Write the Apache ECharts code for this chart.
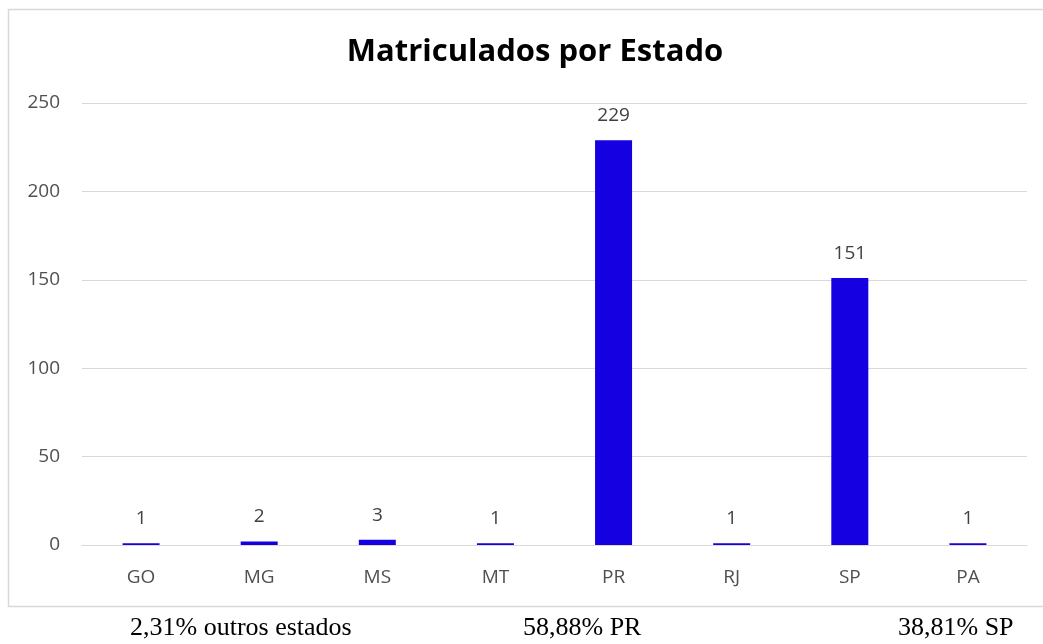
<!DOCTYPE html>
<html>
<head>
<meta charset="utf-8">
<script src="https://cdn.jsdelivr.net/npm/echarts@6/dist/echarts.min.js"></script>
<style>
html, body { margin: 0; padding: 0; background: #fff; }
#main { width: 1043px; height: 644px; }
</style>
</head>
<body>
<div id="main"></div>
<script>
var estados = ['GO', 'MG', 'MS', 'MT', 'PR', 'RJ', 'SP', 'PA'];
var matriculados = [1, 2, 3, 1, 229, 1, 151, 1];
var rodape = ['2,31% outros estados', '58,88% PR', '38,81% SP'];

var chart = echarts.init(document.getElementById('main'));
var option = {
    backgroundColor: '#fff',
    animation: false,
    title: {
        text: 'Matriculados por Estado',
        left: 530,
        top: 32,
        textAlign: 'center',
        textStyle: {
            fontFamily: 'Open Sans',
            fontWeight: 'bold',
            fontSize: 31,
            color: '#000'
        }
    },
    grid: {
        left: 82,
        right: 16,
        top: 103,
        bottom: 99
    },
    xAxis: {
        type: 'category',
        data: estados,
        axisLine: { lineStyle: { color: '#d9d9d9' } },
        axisTick: { show: false },
        axisLabel: {
            color: '#505050',
            fontFamily: 'Open Sans',
            fontSize: 19,
            margin: 23
        }
    },
    yAxis: {
        type: 'value',
        min: 0,
        max: 250,
        interval: 50,
        axisLine: { show: false },
        axisTick: { show: false },
        splitLine: { lineStyle: { color: '#d9d9d9' } },
        axisLabel: {
            color: '#505050',
            fontFamily: 'Open Sans',
            fontSize: 19,
            margin: 22
        }
    },
    series: [{
        type: 'bar',
        data: matriculados,
        barWidth: 37,
        itemStyle: { color: '#1400e0' },
        label: {
            show: true,
            position: 'top',
            distance: 15,
            color: '#404040',
            fontFamily: 'Open Sans',
            fontSize: 19
        }
    }],
    graphic: [{
        type: 'rect',
        shape: { x: 8.5, y: 9.5, width: 1040, height: 597 },
        style: { fill: null, stroke: '#d9d9d9', lineWidth: 1.5 },
        silent: true
    }, {
        type: 'text',
        style: { text: rodape[0], x: 130, y: 628, textVerticalAlign: 'middle', font: '26px "Liberation Serif"', fill: '#000' }
    }, {
        type: 'text',
        style: { text: rodape[1], x: 523, y: 628, textVerticalAlign: 'middle', font: '26px "Liberation Serif"', fill: '#000' }
    }, {
        type: 'text',
        style: { text: rodape[2], x: 898, y: 628, textVerticalAlign: 'middle', font: '26px "Liberation Serif"', fill: '#000' }
    }]
};
chart.setOption(option);
</script>
</body>
</html>
